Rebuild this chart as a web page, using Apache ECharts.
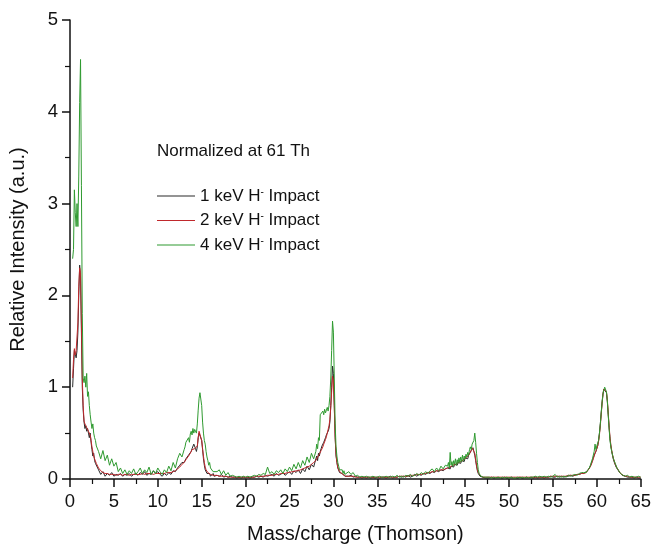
<!DOCTYPE html>
<html>
<head>
<meta charset="utf-8">
<script src="https://cdn.jsdelivr.net/npm/echarts@6/dist/echarts.min.js"></script>
<style>html,body{margin:0;padding:0;background:#fff}#c{width:654px;height:549px}</style>
</head>
<body>
<div id="c"></div>
<script>
// mass/charge positions (Th), shared by the three spectra
var mz = [
  0.3,0.4,0.5,0.6,0.7,0.8,0.9,1.0,1.1,1.2,1.3,1.4,1.5,1.6,1.7,1.8,1.9,2.0,2.1,2.2,2.3,2.4,2.5,2.6,2.7,2.8,2.9,3.0,
  3.25,3.5,3.75,4,4.25,4.5,4.75,5,5.25,5.5,5.75,6,6.25,6.5,6.75,7,7.25,7.5,7.75,8,8.25,8.5,8.75,9,9.25,9.5,9.75,10,10.25,10.5,10.75,11,11.25,11.5,11.75,12,12.25,12.5,12.75,
  13,13.1,13.2,13.3,13.4,13.5,13.6,13.7,13.8,13.9,14,14.1,14.2,14.3,14.4,14.5,14.6,14.7,14.8,14.9,15,15.1,15.2,15.3,15.4,15.5,15.6,15.7,15.8,15.9,16,16.1,16.2,16.3,16.4,16.5,
  16.75,17,17.25,17.5,17.75,18,18.25,18.5,18.75,19,19.25,19.5,19.75,20,20.25,20.5,20.75,21,21.25,21.5,21.75,22,22.25,22.5,22.75,23,23.25,23.5,23.75,24,24.25,24.5,24.75,25,25.25,25.5,25.75,26,26.25,26.5,26.75,27,27.25,27.5,27.75,
  28,28.1,28.2,28.3,28.4,28.5,28.6,28.7,28.8,28.9,29,29.1,29.2,29.3,29.4,29.5,29.6,29.7,29.8,29.9,30,30.1,30.2,30.3,30.4,30.5,30.6,30.7,30.8,30.9,31,31.1,31.2,31.3,31.4,31.5,
  31.75,32,32.25,32.5,32.75,33,33.25,33.5,33.75,34,34.25,34.5,34.75,35,35.25,35.5,35.75,36,36.25,36.5,36.75,37,37.25,37.5,37.75,38,38.25,38.5,38.75,39,39.25,39.5,39.75,40,40.25,40.5,40.75,41,41.25,41.5,41.75,42,42.25,42.5,42.75,
  43,43.1,43.2,43.3,43.4,43.5,43.6,43.7,43.8,43.9,44,44.1,44.2,44.3,44.4,44.5,44.6,44.7,44.8,44.9,45,45.1,45.2,45.3,45.4,45.5,45.6,45.7,45.8,45.9,46,46.1,46.2,46.3,46.4,46.5,46.6,46.7,46.8,46.9,47,47.1,47.2,47.3,47.4,47.5,
  47.75,48,48.25,48.5,48.75,49,49.25,49.5,49.75,50,50.25,50.5,50.75,51,51.25,51.5,51.75,52,52.25,52.5,52.75,53,53.25,53.5,53.75,54,54.25,54.5,54.75,55,55.25,55.5,55.75,56,56.25,56.5,56.75,57,57.25,57.5,57.75,58,58.25,
  58.5,58.6,58.7,58.8,58.9,59,59.1,59.2,59.3,59.4,59.5,59.6,59.7,59.8,59.9,60,60.1,60.2,60.3,60.4,60.5,60.6,60.7,60.8,60.9,61,61.1,61.2,61.3,61.4,61.5,61.6,61.7,61.8,61.9,62,62.1,62.2,62.3,62.4,62.5,62.6,62.7,62.8,62.9,63,
  63.25,63.5,63.75,64,64.25,64.5,64.75,65
];

// 1 keV H- impact
var kev1 = [
  1.0,1.2,1.4,1.38,1.32,1.4,1.6,2.0,2.33,2.2,1.6,1.0,0.75,0.62,0.55,0.58,0.52,0.55,0.5,0.45,0.5,0.4,0.32,0.25,0.28,0.2,0.17,0.15,
  0.1,0.05,0.08,0.03,0.06,0.04,0.07,0.03,0.05,0.04,0.06,0.03,0.05,0.04,0.06,0.03,0.05,0.06,0.04,0.07,0.05,0.08,0.04,0.06,0.05,0.09,0.06,0.08,0.05,0.03,0.06,0.04,0.07,0.05,0.09,0.08,0.12,0.15,0.18,
  0.18,0.2,0.22,0.2,0.24,0.26,0.25,0.28,0.3,0.33,0.35,0.38,0.36,0.33,0.3,0.35,0.45,0.5,0.52,0.5,0.42,0.32,0.22,0.15,0.1,0.12,0.06,0.08,0.04,0.06,0.03,0.05,0.04,0.06,0.03,0.04,
  0.04,0.03,0.05,0.02,0.03,0.02,0.03,0.02,0.02,0.01,0.02,0.01,0.02,0.01,0.02,0.01,0.02,0.02,0.03,0.02,0.03,0.02,0.04,0.03,0.04,0.05,0.03,0.06,0.04,0.05,0.07,0.04,0.06,0.08,0.05,0.09,0.07,0.1,0.06,0.11,0.08,0.14,0.1,0.16,0.13,
  0.22,0.25,0.2,0.28,0.25,0.3,0.33,0.36,0.35,0.4,0.42,0.45,0.48,0.5,0.52,0.55,0.62,0.8,1.0,1.23,1.15,0.8,0.45,0.25,0.18,0.12,0.1,0.07,0.08,0.05,0.06,0.04,0.05,0.03,0.04,0.03,
  0.03,0.04,0.02,0.03,0.02,0.02,0.01,0.02,0.01,0.02,0.01,0.02,0.01,0.02,0.01,0.02,0.02,0.01,0.02,0.03,0.01,0.02,0.02,0.03,0.02,0.03,0.02,0.04,0.02,0.03,0.05,0.03,0.05,0.04,0.06,0.05,0.07,0.06,0.08,0.07,0.09,0.08,0.1,0.09,0.11,
  0.12,0.1,0.13,0.11,0.14,0.12,0.15,0.13,0.16,0.14,0.17,0.15,0.18,0.16,0.19,0.17,0.2,0.18,0.22,0.19,0.23,0.21,0.25,0.22,0.26,0.25,0.28,0.31,0.33,0.34,0.3,0.26,0.2,0.14,0.09,0.06,0.04,0.03,0.02,0.02,0.02,0.01,0.02,0.01,0.02,0.01,
  0.01,0.02,0.01,0.01,0.02,0.01,0.01,0.02,0.01,0.01,0.02,0.01,0.01,0.01,0.02,0.01,0.01,0.02,0.01,0.02,0.01,0.02,0.01,0.02,0.02,0.01,0.02,0.02,0.03,0.02,0.02,0.03,0.02,0.03,0.02,0.03,0.03,0.04,0.03,0.04,0.05,0.05,0.06,
  0.06,0.06,0.07,0.08,0.08,0.1,0.11,0.13,0.15,0.17,0.2,0.23,0.26,0.28,0.3,0.33,0.36,0.42,0.5,0.6,0.72,0.84,0.93,0.98,1.0,0.99,0.94,0.84,0.7,0.56,0.44,0.36,0.3,0.25,0.21,0.18,0.16,0.13,0.11,0.1,0.08,0.07,0.06,0.05,0.04,0.04,
  0.03,0.02,0.02,0.02,0.01,0.02,0.01,0.01
];

// 2 keV H- impact
var kev2 = [
  1.1,1.3,1.42,1.35,1.4,1.38,1.7,2.1,2.3,2.25,1.7,1.1,0.8,0.63,0.6,0.58,0.56,0.55,0.52,0.5,0.48,0.42,0.35,0.3,0.25,0.22,0.2,0.17,
  0.12,0.09,0.07,0.06,0.06,0.05,0.05,0.05,0.04,0.05,0.05,0.04,0.05,0.05,0.04,0.05,0.05,0.05,0.05,0.05,0.06,0.05,0.06,0.06,0.06,0.05,0.06,0.06,0.06,0.06,0.06,0.07,0.07,0.07,0.08,0.09,0.11,0.13,0.16,
  0.18,0.19,0.21,0.22,0.23,0.25,0.26,0.28,0.3,0.32,0.33,0.34,0.33,0.32,0.31,0.36,0.45,0.52,0.53,0.5,0.42,0.33,0.25,0.18,0.13,0.1,0.08,0.07,0.06,0.05,0.05,0.04,0.04,0.04,0.04,0.04,
  0.04,0.03,0.03,0.03,0.03,0.02,0.02,0.02,0.02,0.02,0.02,0.02,0.02,0.02,0.02,0.02,0.02,0.02,0.03,0.03,0.03,0.03,0.03,0.04,0.04,0.04,0.05,0.05,0.05,0.06,0.06,0.06,0.07,0.07,0.08,0.08,0.09,0.09,0.1,0.11,0.12,0.13,0.14,0.16,0.18,
  0.2,0.22,0.24,0.25,0.27,0.29,0.31,0.33,0.35,0.38,0.4,0.43,0.46,0.5,0.54,0.58,0.65,0.78,0.95,1.12,1.08,0.78,0.45,0.27,0.18,0.13,0.1,0.08,0.07,0.06,0.05,0.05,0.04,0.04,0.03,0.03,
  0.03,0.03,0.03,0.02,0.02,0.02,0.02,0.02,0.02,0.02,0.02,0.02,0.02,0.02,0.02,0.02,0.02,0.02,0.02,0.02,0.02,0.02,0.02,0.03,0.03,0.03,0.03,0.03,0.04,0.04,0.04,0.05,0.05,0.05,0.06,0.06,0.07,0.07,0.08,0.08,0.09,0.09,0.1,0.1,0.11,
  0.12,0.12,0.13,0.13,0.14,0.14,0.15,0.15,0.16,0.16,0.17,0.17,0.18,0.18,0.19,0.19,0.2,0.2,0.21,0.21,0.22,0.23,0.24,0.25,0.26,0.27,0.29,0.31,0.34,0.35,0.33,0.28,0.22,0.15,0.1,0.07,0.05,0.04,0.03,0.03,0.02,0.02,0.02,0.02,0.02,0.02,
  0.02,0.02,0.02,0.02,0.02,0.02,0.02,0.02,0.02,0.02,0.02,0.02,0.02,0.02,0.02,0.02,0.02,0.02,0.02,0.02,0.02,0.02,0.02,0.02,0.02,0.02,0.02,0.02,0.03,0.03,0.03,0.03,0.03,0.03,0.03,0.03,0.04,0.04,0.04,0.04,0.05,0.05,0.06,
  0.06,0.06,0.07,0.07,0.08,0.09,0.11,0.12,0.14,0.16,0.19,0.22,0.25,0.28,0.3,0.33,0.36,0.41,0.48,0.58,0.7,0.82,0.92,0.98,1.0,1.0,0.95,0.86,0.72,0.58,0.46,0.37,0.31,0.26,0.22,0.19,0.16,0.14,0.12,0.1,0.09,0.07,0.06,0.05,0.05,0.04,
  0.03,0.03,0.02,0.02,0.02,0.02,0.02,0.02
];

// 4 keV H- impact
var kev4 = [
  2.4,2.5,3.15,2.9,2.75,3.0,2.75,3.3,4.1,4.57,3.2,1.8,1.1,1.05,1.12,1.0,1.15,0.9,0.95,0.8,0.7,0.62,0.55,0.6,0.5,0.45,0.42,0.36,
  0.3,0.22,0.31,0.2,0.26,0.15,0.22,0.14,0.18,0.08,0.12,0.06,0.1,0.05,0.09,0.06,0.11,0.05,0.08,0.12,0.06,0.1,0.07,0.13,0.05,0.09,0.06,0.12,0.08,0.05,0.1,0.07,0.14,0.09,0.18,0.12,0.22,0.28,0.24,
  0.32,0.35,0.4,0.38,0.42,0.45,0.4,0.49,0.52,0.48,0.55,0.5,0.54,0.56,0.5,0.6,0.75,0.88,0.94,0.92,0.8,0.62,0.5,0.42,0.38,0.3,0.24,0.2,0.15,0.18,0.12,0.1,0.14,0.08,0.1,0.07,
  0.08,0.1,0.05,0.09,0.04,0.07,0.03,0.04,0.03,0.02,0.03,0.02,0.03,0.02,0.03,0.02,0.03,0.04,0.03,0.05,0.04,0.06,0.05,0.13,0.06,0.08,0.05,0.09,0.07,0.1,0.06,0.11,0.08,0.13,0.09,0.16,0.11,0.18,0.12,0.2,0.15,0.24,0.18,0.28,0.22,
  0.3,0.38,0.33,0.45,0.42,0.7,0.72,0.68,0.74,0.7,0.76,0.72,0.75,0.78,0.74,0.8,0.9,1.1,1.4,1.72,1.6,1.1,0.6,0.35,0.25,0.18,0.14,0.1,0.12,0.08,0.1,0.06,0.09,0.05,0.07,0.04,
  0.08,0.05,0.07,0.03,0.04,0.02,0.03,0.02,0.03,0.02,0.02,0.03,0.02,0.02,0.03,0.02,0.02,0.03,0.02,0.02,0.03,0.02,0.04,0.02,0.03,0.02,0.04,0.03,0.05,0.03,0.04,0.06,0.04,0.07,0.05,0.08,0.06,0.09,0.11,0.08,0.12,0.09,0.14,0.11,0.15,
  0.14,0.18,0.12,0.29,0.15,0.19,0.14,0.2,0.16,0.22,0.15,0.21,0.17,0.23,0.18,0.24,0.19,0.26,0.2,0.25,0.22,0.27,0.24,0.29,0.26,0.32,0.35,0.32,0.38,0.36,0.42,0.5,0.4,0.28,0.18,0.1,0.06,0.04,0.03,0.02,0.03,0.02,0.02,0.03,0.02,0.02,
  0.02,0.01,0.02,0.01,0.02,0.01,0.02,0.01,0.02,0.01,0.02,0.01,0.01,0.02,0.01,0.02,0.01,0.02,0.01,0.02,0.02,0.03,0.02,0.03,0.02,0.03,0.02,0.03,0.02,0.03,0.05,0.02,0.03,0.02,0.03,0.02,0.04,0.03,0.04,0.05,0.04,0.06,0.07,
  0.07,0.07,0.08,0.07,0.09,0.1,0.12,0.13,0.16,0.18,0.22,0.26,0.3,0.38,0.32,0.36,0.38,0.42,0.5,0.6,0.72,0.83,0.92,0.97,1.0,1.0,0.95,0.85,0.7,0.55,0.42,0.35,0.3,0.26,0.22,0.2,0.17,0.15,0.12,0.1,0.09,0.07,0.06,0.05,0.05,0.04,
  0.03,0.04,0.02,0.03,0.02,0.02,0.03,0.02
];

var seriesNames = ['1 keV H- Impact', '2 keV H- Impact', '4 keV H- Impact'];
var seriesColors = ['#2b2b2b', '#c0282c', '#2f9a30'];
var noteText = 'Normalized at 61 Th';
var xTitle = 'Mass/charge (Thomson)';
var yTitle = 'Relative Intensity (a.u.)';

[kev1, kev2, kev4].forEach(function (a, i) {
  if (a.length !== mz.length) throw new Error('length mismatch in series ' + i + ': ' + a.length + ' vs ' + mz.length);
});

function pairs(vals) { return mz.map(function (x, i) { return [x, vals[i]]; }); }

var FONT = '"Liberation Sans", Arial, Helvetica, sans-serif';
var chart = echarts.init(document.getElementById('c'), null, { renderer: 'canvas' });

chart.setOption({
  animation: false,
  backgroundColor: '#fff',
  grid: { left: 70, right: 7, top: 20, bottom: 66, containLabel: false },
  title: {
    text: noteText, left: 157, top: 143, padding: 0,
    textStyle: { fontFamily: FONT, fontSize: 17, fontWeight: 'normal', color: '#111' }
  },
  legend: {
    orient: 'vertical', left: 157, top: 187, padding: 0,
    itemWidth: 38, itemHeight: 1, itemGap: 6.5,
    icon: 'rect',
    data: seriesNames,
    formatter: function (n) { return n.replace('H-', 'H{sup|-}'); },
    textStyle: {
      fontFamily: FONT, fontSize: 17, lineHeight: 18, color: '#111',
      rich: { sup: { fontFamily: FONT, fontSize: 10, verticalAlign: 'top', lineHeight: 10, color: '#111' } }
    }
  },
  xAxis: {
    type: 'value', min: 0, max: 65, interval: 5,
    name: xTitle, nameLocation: 'middle', nameGap: 45,
    nameTextStyle: { fontFamily: FONT, fontSize: 20, color: '#111' },
    axisLine: { show: true, onZero: false, lineStyle: { color: '#111', width: 1.5 } },
    axisTick: { show: true, inside: false, length: 8, lineStyle: { color: '#111', width: 1.5 } },
    minorTick: { show: true, splitNumber: 2, length: 5, lineStyle: { color: '#111', width: 1.2 } },
    axisLabel: { fontFamily: FONT, fontSize: 18.5, color: '#111', margin: 13 },
    splitLine: { show: false }
  },
  yAxis: {
    type: 'value', min: 0, max: 5, interval: 1,
    name: yTitle, nameLocation: 'middle', nameGap: 42, nameRotate: 90,
    nameTextStyle: { fontFamily: FONT, fontSize: 20, color: '#111' },
    axisLine: { show: true, lineStyle: { color: '#111', width: 1.5 } },
    axisTick: { show: true, inside: false, length: 8, lineStyle: { color: '#111', width: 1.5 } },
    minorTick: { show: true, splitNumber: 2, length: 5, lineStyle: { color: '#111', width: 1.2 } },
    axisLabel: { fontFamily: FONT, fontSize: 18.5, color: '#111', margin: 12 },
    splitLine: { show: false }
  },
  series: seriesNames.map(function (n, i) {
    return {
      name: n, type: 'line', showSymbol: false, symbol: 'none',
      data: pairs([kev1, kev2, kev4][i]),
      lineStyle: { color: seriesColors[i], width: 1 },
      itemStyle: { color: seriesColors[i] },
      z: 2 + i
    };
  })
});
</script>
</body>
</html>
